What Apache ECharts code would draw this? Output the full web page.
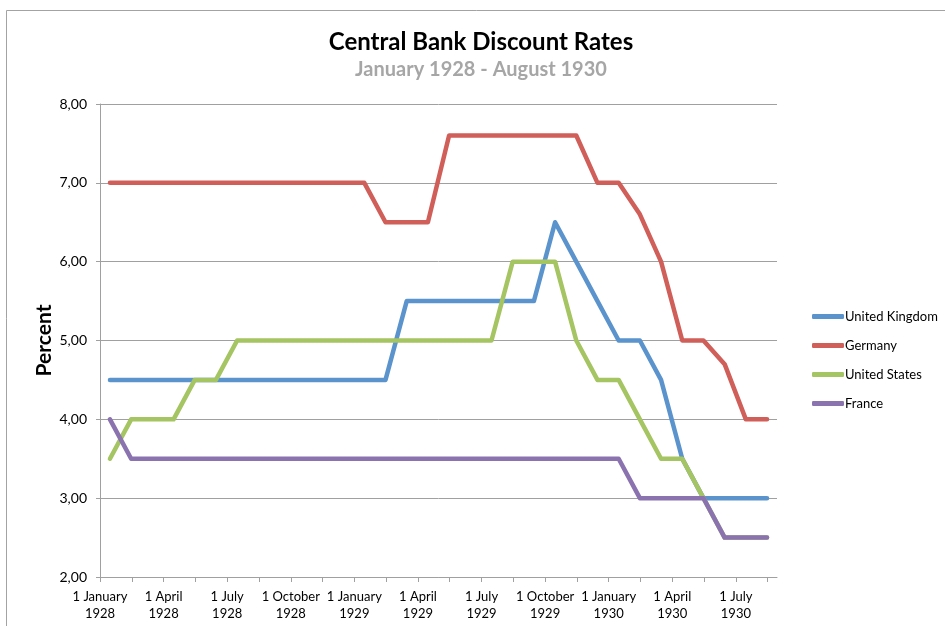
<!DOCTYPE html>
<html>
<head>
<meta charset="utf-8">
<title>Central Bank Discount Rates</title>
<script src="https://cdn.jsdelivr.net/npm/echarts@6/dist/echarts.min.js"></script>
<style>
  html, body { margin: 0; padding: 0; background: #fff; }
  #chart { width: 945px; height: 626px; }
</style>
</head>
<body>
<div id="chart"></div>
<script>
// monthly observations, January 1928 .. August 1930
const months = [
  'Jan 1928', 'Feb 1928', 'Mar 1928', 'Apr 1928', 'May 1928', 'Jun 1928',
  'Jul 1928', 'Aug 1928', 'Sep 1928', 'Oct 1928', 'Nov 1928', 'Dec 1928',
  'Jan 1929', 'Feb 1929', 'Mar 1929', 'Apr 1929', 'May 1929', 'Jun 1929',
  'Jul 1929', 'Aug 1929', 'Sep 1929', 'Oct 1929', 'Nov 1929', 'Dec 1929',
  'Jan 1930', 'Feb 1930', 'Mar 1930', 'Apr 1930', 'May 1930', 'Jun 1930',
  'Jul 1930', 'Aug 1930'
];
const unitedKingdom = [
  4.5, 4.5, 4.5, 4.5, 4.5, 4.5, 4.5, 4.5, 4.5, 4.5, 4.5, 4.5,
  4.5, 4.5, 5.5, 5.5, 5.5, 5.5, 5.5, 5.5, 5.5, 6.5, 6, 5.5,
  5, 5, 4.5, 3.5, 3, 3, 3, 3
];
const germany = [
  7, 7, 7, 7, 7, 7, 7, 7, 7, 7, 7, 7,
  7, 6.5, 6.5, 6.5, 7.6, 7.6, 7.6, 7.6, 7.6, 7.6, 7.6, 7,
  7, 6.6, 6, 5, 5, 4.7, 4, 4
];
const unitedStates = [
  3.5, 4, 4, 4, 4.5, 4.5, 5, 5, 5, 5, 5, 5,
  5, 5, 5, 5, 5, 5, 5, 6, 6, 6, 5, 4.5,
  4.5, 4, 3.5, 3.5, 3, 2.5, 2.5, 2.5
];
const france = [
  4, 3.5, 3.5, 3.5, 3.5, 3.5, 3.5, 3.5, 3.5, 3.5, 3.5, 3.5,
  3.5, 3.5, 3.5, 3.5, 3.5, 3.5, 3.5, 3.5, 3.5, 3.5, 3.5, 3.5,
  3.5, 3, 3, 3, 3, 2.5, 2.5, 2.5
];
const tickLabels = [
  '1 January\n1928', '1 April\n1928', '1 July\n1928', '1 October\n1928',
  '1 January\n1929', '1 April\n1929', '1 July\n1929', '1 October\n1929',
  '1 January\n1930', '1 April\n1930', '1 July\n1930'
];
const seriesNames = ['United Kingdom', 'Germany', 'United States', 'France'];
const colors = ['#5B93CD', '#CF5F58', '#A5C462', '#8A73AF'];

// x is measured in months from 1 January 1928; observations sit mid-month
const MID = 0.47;
const toPoints = arr => arr.map((v, i) => [i + MID, v]);
const labelTicks = tickLabels.map((t, i) => i * 3);
const minorTicks = [];
for (let i = 0; i <= 21; i++) minorTicks.push(i * 1.5);

const FONT = 'Lato, "Open Sans", sans-serif';
const chart = echarts.init(document.getElementById('chart'));

const option = {
  backgroundColor: '#fff',
  color: colors,
  textStyle: { fontFamily: FONT },
  graphic: [{
    type: 'rect',
    shape: { x: 6.5, y: 10.5, width: 1200, height: 1000 },
    style: { fill: 'none', stroke: '#A3A3A3', lineWidth: 1 },
    silent: true
  }],
  title: {
    text: 'Central Bank Discount Rates',
    subtext: 'January 1928 - August 1930',
    left: 476,
    textAlign: 'center',
    top: 25,
    itemGap: 6,
    textStyle: { fontFamily: FONT, fontSize: 24, fontWeight: 'bold', color: '#000' },
    subtextStyle: { fontFamily: FONT, fontSize: 20, fontWeight: 'bold', color: '#A6A6A6' }
  },
  legend: {
    orient: 'vertical',
    left: 807,
    top: 305,
    itemWidth: 32,
    itemHeight: 5,
    itemGap: 16,
    icon: 'roundRect',
    data: seriesNames,
    textStyle: { fontFamily: FONT, fontSize: 13, color: '#000', padding: [0, 0, 0, -4] }
  },
  grid: { left: 100, right: 168, top: 104, bottom: 49 },
  xAxis: {
    type: 'value',
    min: 0,
    max: 31.94,
    splitLine: { show: false },
    axisLine: { lineStyle: { color: '#A0A0A0', width: 1 } },
    axisTick: {
      length: 5,
      customValues: minorTicks,
      lineStyle: { color: '#A0A0A0' }
    },
    axisLabel: {
      customValues: labelTicks,
      formatter: v => tickLabels[Math.round(v / 3)] || '',
      fontFamily: FONT,
      fontSize: 13,
      color: '#000',
      lineHeight: 17,
      margin: 11
    }
  },
  yAxis: {
    type: 'value',
    min: 2,
    max: 8,
    interval: 1,
    name: 'Percent',
    nameLocation: 'middle',
    nameRotate: 90,
    nameGap: 45,
    nameMoveOverlap: false,
    nameTextStyle: { fontFamily: FONT, fontSize: 21, fontWeight: 'bold', color: '#000' },
    axisLine: { show: true, lineStyle: { color: '#A0A0A0', width: 1 } },
    axisTick: { show: true, length: 4, lineStyle: { color: '#A0A0A0' } },
    splitLine: { lineStyle: { color: '#A0A0A0', width: 1 } },
    axisLabel: {
      formatter: v => v.toFixed(2).replace('.', ','),
      fontFamily: FONT,
      fontSize: 14,
      color: '#000',
      margin: 13
    }
  },
  series: [unitedKingdom, germany, unitedStates, france].map((arr, i) => ({
    name: seriesNames[i],
    type: 'line',
    data: toPoints(arr),
    symbol: 'none',
    smooth: false,
    lineStyle: { width: 4.5, color: colors[i], cap: 'round', join: 'round' },
    itemStyle: { color: colors[i] }
  })),
  animation: false
};

chart.setOption(option);
</script>
</body>
</html>
